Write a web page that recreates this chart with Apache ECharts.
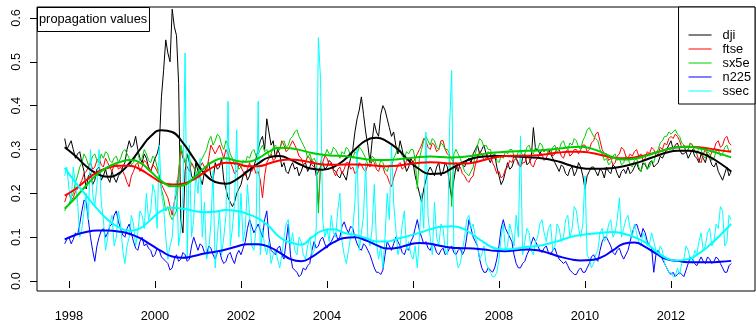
<!DOCTYPE html>
<html><head><meta charset="utf-8">
<script src="https://cdn.jsdelivr.net/npm/echarts@6/dist/echarts.min.js"></script>
<style>html,body{margin:0;padding:0;background:#fff}#c{width:756px;height:323px}</style>
</head><body><div id="c"></div>
<script>
// ---- time grid of the noisy series (years) ----
const years = [1997.9,1997.95,
1998,1998.05,1998.1,1998.15,1998.2,1998.25,1998.3,1998.35,1998.4,1998.45,1998.5,1998.55,1998.6,1998.65,1998.7,1998.75,1998.8,1998.85,1998.9,1998.95,
1999,1999.05,1999.1,1999.15,1999.2,1999.25,1999.3,1999.35,1999.4,1999.45,1999.5,1999.55,1999.6,1999.65,1999.7,1999.75,1999.8,1999.85,1999.9,1999.95,
2000,2000.05,2000.1,2000.15,2000.2,2000.25,2000.3,2000.35,2000.4,2000.45,2000.5,2000.55,2000.6,2000.65,2000.7,2000.75,2000.8,2000.85,2000.9,2000.95,
2001,2001.05,2001.1,2001.15,2001.2,2001.25,2001.3,2001.35,2001.4,2001.45,2001.5,2001.55,2001.6,2001.65,2001.7,2001.75,2001.8,2001.85,2001.9,2001.95,
2002,2002.05,2002.1,2002.15,2002.2,2002.25,2002.3,2002.35,2002.4,2002.45,2002.5,2002.55,2002.6,2002.65,2002.7,2002.75,2002.8,2002.85,2002.9,2002.95,
2003,2003.05,2003.1,2003.15,2003.2,2003.25,2003.3,2003.35,2003.4,2003.45,2003.5,2003.55,2003.6,2003.65,2003.7,2003.75,2003.8,2003.85,2003.9,2003.95,
2004,2004.05,2004.1,2004.15,2004.2,2004.25,2004.3,2004.35,2004.4,2004.45,2004.5,2004.55,2004.6,2004.65,2004.7,2004.75,2004.8,2004.85,2004.9,2004.95,
2005,2005.05,2005.1,2005.15,2005.2,2005.25,2005.3,2005.35,2005.4,2005.45,2005.5,2005.55,2005.6,2005.65,2005.7,2005.75,2005.8,2005.85,2005.9,2005.95,
2006,2006.05,2006.1,2006.15,2006.2,2006.25,2006.3,2006.35,2006.4,2006.45,2006.5,2006.55,2006.6,2006.65,2006.7,2006.75,2006.8,2006.85,2006.9,2006.95,
2007,2007.05,2007.1,2007.15,2007.2,2007.25,2007.3,2007.35,2007.4,2007.45,2007.5,2007.55,2007.6,2007.65,2007.7,2007.75,2007.8,2007.85,2007.9,2007.95,
2008,2008.05,2008.1,2008.15,2008.2,2008.25,2008.3,2008.35,2008.4,2008.45,2008.5,2008.55,2008.6,2008.65,2008.7,2008.75,2008.8,2008.85,2008.9,2008.95,
2009,2009.05,2009.1,2009.15,2009.2,2009.25,2009.3,2009.35,2009.4,2009.45,2009.5,2009.55,2009.6,2009.65,2009.7,2009.75,2009.8,2009.85,2009.9,2009.95,
2010,2010.05,2010.1,2010.15,2010.2,2010.25,2010.3,2010.35,2010.4,2010.45,2010.5,2010.55,2010.6,2010.65,2010.7,2010.75,2010.8,2010.85,2010.9,2010.95,
2011,2011.05,2011.1,2011.15,2011.2,2011.25,2011.3,2011.35,2011.4,2011.45,2011.5,2011.55,2011.6,2011.65,2011.7,2011.75,2011.8,2011.85,2011.9,2011.95,
2012,2012.05,2012.1,2012.15,2012.2,2012.25,2012.3,2012.35,2012.4,2012.45,2012.5,2012.55,2012.6,2012.65,2012.7,2012.75,2012.8,2012.85,2012.9,2012.95,
2013,2013.05,2013.1,2013.15,2013.2,2013.25,2013.3,2013.35,2013.4];

const dji = [0.325,0.30,
0.31,0.32,0.30,0.28,0.29,0.295,0.27,0.25,0.21,0.24,0.245,0.22,0.23,0.255,0.26,0.23,0.24,0.255,0.235,0.225,
0.25,0.235,0.225,0.24,0.245,0.26,0.27,0.30,0.32,0.305,0.31,0.33,0.30,0.28,0.27,0.29,0.28,0.26,0.25,0.265,
0.28,0.29,0.31,0.42,0.48,0.55,0.52,0.50,0.62,0.58,0.56,0.45,0.14,0.11,0.25,0.29,0.27,0.24,0.23,0.27,
0.25,0.235,0.22,0.25,0.26,0.27,0.24,0.23,0.27,0.255,0.26,0.28,0.23,0.21,0.19,0.18,0.17,0.18,0.20,0.21,
0.22,0.24,0.25,0.23,0.24,0.26,0.26,0.28,0.30,0.32,0.33,0.30,0.37,0.34,0.31,0.32,0.28,0.30,0.29,0.26,
0.27,0.25,0.245,0.26,0.27,0.255,0.26,0.24,0.25,0.265,0.27,0.25,0.26,0.275,0.27,0.24,0.25,0.26,0.27,0.255,
0.26,0.275,0.27,0.255,0.25,0.24,0.235,0.25,0.24,0.23,0.26,0.28,0.30,0.34,0.37,0.39,0.42,0.38,0.34,0.31,
0.27,0.32,0.36,0.34,0.33,0.38,0.40,0.39,0.37,0.35,0.33,0.34,0.31,0.29,0.32,0.30,0.27,0.25,0.26,0.28,
0.27,0.24,0.22,0.20,0.18,0.21,0.23,0.25,0.26,0.25,0.24,0.26,0.27,0.24,0.25,0.27,0.26,0.22,0.19,0.23,
0.26,0.25,0.27,0.265,0.26,0.275,0.28,0.27,0.29,0.30,0.31,0.29,0.30,0.31,0.29,0.28,0.27,0.285,0.29,0.26,
0.24,0.22,0.23,0.25,0.27,0.255,0.26,0.275,0.28,0.27,0.26,0.28,0.29,0.265,0.27,0.28,0.35,0.30,0.30,0.29,
0.30,0.295,0.30,0.30,0.29,0.28,0.27,0.26,0.25,0.265,0.26,0.245,0.24,0.255,0.26,0.24,0.25,0.27,0.26,0.24,
0.21,0.24,0.25,0.26,0.26,0.25,0.24,0.255,0.25,0.235,0.26,0.25,0.245,0.265,0.26,0.245,0.235,0.25,0.255,0.245,
0.26,0.245,0.25,0.26,0.27,0.255,0.25,0.27,0.265,0.255,0.27,0.275,0.26,0.265,0.27,0.285,0.28,0.29,0.30,0.31,
0.32,0.30,0.31,0.315,0.30,0.29,0.29,0.295,0.28,0.29,0.30,0.285,0.28,0.27,0.29,0.28,0.27,0.29,0.28,0.265,
0.26,0.27,0.25,0.24,0.23,0.245,0.26,0.24,0.25];

const ftse = [0.18,0.195,
0.20,0.185,0.19,0.205,0.21,0.22,0.23,0.245,0.25,0.26,0.27,0.255,0.26,0.275,0.28,0.265,0.26,0.28,0.27,0.26,
0.25,0.265,0.27,0.255,0.26,0.25,0.24,0.225,0.215,0.24,0.25,0.265,0.27,0.25,0.26,0.275,0.27,0.26,0.25,0.265,
0.26,0.25,0.24,0.22,0.21,0.20,0.19,0.17,0.15,0.18,0.20,0.25,0.30,0.28,0.27,0.26,0.25,0.27,0.26,0.25,
0.24,0.26,0.27,0.26,0.25,0.28,0.31,0.30,0.29,0.30,0.31,0.295,0.28,0.30,0.29,0.27,0.26,0.245,0.25,0.265,
0.26,0.25,0.24,0.255,0.27,0.25,0.26,0.245,0.25,0.23,0.19,0.24,0.27,0.28,0.29,0.275,0.28,0.295,0.30,0.32,
0.31,0.295,0.30,0.31,0.32,0.31,0.30,0.285,0.28,0.265,0.27,0.285,0.28,0.265,0.26,0.25,0.175,0.26,0.27,0.285,
0.28,0.265,0.27,0.25,0.24,0.255,0.26,0.245,0.255,0.27,0.27,0.255,0.26,0.245,0.25,0.27,0.265,0.255,0.25,0.265,
0.26,0.275,0.27,0.255,0.25,0.265,0.26,0.245,0.24,0.225,0.215,0.235,0.25,0.265,0.27,0.255,0.26,0.275,0.28,0.265,
0.27,0.28,0.29,0.30,0.31,0.325,0.32,0.305,0.30,0.315,0.31,0.295,0.30,0.32,0.32,0.30,0.29,0.285,0.28,0.265,
0.27,0.255,0.26,0.245,0.24,0.23,0.225,0.235,0.24,0.265,0.28,0.295,0.29,0.275,0.28,0.295,0.29,0.27,0.26,0.245,
0.25,0.235,0.24,0.255,0.26,0.275,0.27,0.285,0.28,0.265,0.26,0.27,0.27,0.285,0.28,0.265,0.26,0.275,0.28,0.29,
0.29,0.275,0.28,0.295,0.30,0.285,0.29,0.305,0.30,0.285,0.28,0.295,0.30,0.285,0.29,0.30,0.30,0.29,0.30,0.31,
0.31,0.295,0.30,0.315,0.32,0.335,0.34,0.32,0.30,0.29,0.29,0.275,0.28,0.265,0.27,0.285,0.29,0.305,0.30,0.285,
0.28,0.29,0.285,0.295,0.30,0.285,0.29,0.275,0.28,0.295,0.29,0.305,0.30,0.285,0.29,0.305,0.30,0.315,0.31,0.325,
0.33,0.325,0.335,0.33,0.32,0.305,0.31,0.295,0.30,0.315,0.31,0.295,0.29,0.275,0.27,0.29,0.30,0.285,0.28,0.295,
0.30,0.315,0.32,0.305,0.31,0.325,0.33,0.315,0.31];

const sx5e = [0.16,0.17,
0.175,0.19,0.20,0.225,0.24,0.26,0.27,0.29,0.28,0.265,0.27,0.285,0.29,0.275,0.27,0.29,0.28,0.295,0.29,0.275,
0.27,0.28,0.285,0.27,0.28,0.295,0.30,0.29,0.28,0.265,0.27,0.285,0.29,0.275,0.28,0.30,0.29,0.275,0.27,0.285,
0.28,0.26,0.24,0.21,0.19,0.16,0.17,0.15,0.14,0.15,0.16,0.24,0.31,0.29,0.27,0.29,0.28,0.265,0.26,0.245,
0.25,0.27,0.28,0.29,0.30,0.32,0.33,0.31,0.32,0.335,0.33,0.31,0.30,0.32,0.31,0.29,0.28,0.265,0.27,0.255,
0.26,0.275,0.27,0.285,0.28,0.295,0.30,0.285,0.29,0.30,0.31,0.295,0.30,0.285,0.29,0.305,0.31,0.30,0.30,0.315,
0.32,0.305,0.31,0.325,0.33,0.34,0.345,0.33,0.32,0.31,0.30,0.28,0.29,0.275,0.28,0.27,0.155,0.27,0.29,0.285,
0.30,0.29,0.29,0.305,0.30,0.29,0.28,0.295,0.29,0.305,0.30,0.285,0.28,0.295,0.29,0.305,0.30,0.29,0.28,0.265,
0.27,0.285,0.28,0.265,0.26,0.275,0.27,0.255,0.25,0.265,0.26,0.28,0.29,0.305,0.30,0.285,0.28,0.295,0.29,0.30,
0.30,0.28,0.21,0.28,0.30,0.32,0.33,0.32,0.31,0.325,0.32,0.305,0.30,0.315,0.31,0.30,0.30,0.29,0.17,0.29,
0.30,0.29,0.28,0.265,0.25,0.245,0.24,0.25,0.26,0.29,0.31,0.325,0.32,0.305,0.31,0.30,0.30,0.285,0.29,0.275,
0.27,0.285,0.28,0.295,0.29,0.30,0.30,0.285,0.28,0.295,0.30,0.285,0.29,0.305,0.31,0.295,0.29,0.305,0.30,0.315,
0.31,0.295,0.30,0.29,0.29,0.305,0.31,0.295,0.30,0.315,0.32,0.305,0.30,0.315,0.31,0.325,0.32,0.305,0.30,0.32,
0.33,0.345,0.35,0.34,0.33,0.325,0.32,0.30,0.29,0.275,0.28,0.265,0.27,0.285,0.29,0.275,0.28,0.265,0.27,0.285,
0.28,0.265,0.26,0.275,0.28,0.26,0.25,0.265,0.27,0.255,0.26,0.275,0.27,0.29,0.30,0.315,0.32,0.33,0.33,0.34,
0.335,0.34,0.345,0.335,0.33,0.315,0.31,0.295,0.30,0.315,0.31,0.295,0.29,0.305,0.30,0.285,0.28,0.295,0.29,0.275,
0.28,0.295,0.30,0.285,0.29,0.305,0.31,0.295,0.30];

const n225 = [0.085,0.095,
0.10,0.085,0.095,0.11,0.105,0.13,0.16,0.185,0.18,0.14,0.10,0.07,0.045,0.08,0.10,0.115,0.12,0.10,0.11,0.125,
0.13,0.15,0.16,0.135,0.12,0.105,0.10,0.12,0.13,0.11,0.09,0.075,0.07,0.09,0.10,0.08,0.085,0.075,0.07,0.055,
0.06,0.075,0.07,0.055,0.05,0.045,0.04,0.025,0.03,0.05,0.06,0.045,0.05,0.065,0.06,0.045,0.05,0.08,0.10,0.085,
0.07,0.085,0.08,0.065,0.06,0.08,0.075,0.06,0.05,0.065,0.07,0.05,0.04,0.045,0.06,0.065,0.05,0.04,0.06,0.07,
0.06,0.075,0.09,0.12,0.14,0.125,0.11,0.12,0.13,0.115,0.10,0.14,0.16,0.10,0.07,0.065,0.06,0.075,0.08,0.06,
0.05,0.09,0.13,0.06,0.03,0.025,0.02,0.01,0.015,0.03,0.025,0.035,0.04,0.07,0.09,0.075,0.08,0.095,0.10,0.085,
0.075,0.085,0.09,0.10,0.11,0.095,0.10,0.125,0.135,0.12,0.11,0.125,0.12,0.10,0.085,0.075,0.07,0.085,0.08,0.07,
0.06,0.045,0.03,0.02,0.02,0.015,0.025,0.06,0.09,0.08,0.07,0.085,0.10,0.09,0.08,0.065,0.06,0.075,0.07,0.09,
0.10,0.12,0.14,0.115,0.10,0.085,0.09,0.075,0.07,0.085,0.08,0.065,0.06,0.07,0.075,0.06,0.065,0.075,0.08,0.065,
0.06,0.07,0.075,0.06,0.07,0.10,0.14,0.12,0.10,0.09,0.08,0.05,0.03,0.02,0.02,0.03,0.025,0.02,0.03,0.05,
0.08,0.12,0.14,0.12,0.11,0.10,0.09,0.06,0.04,0.03,0.03,0.04,0.045,0.06,0.07,0.085,0.10,0.09,0.08,0.07,
0.065,0.075,0.08,0.065,0.06,0.07,0.075,0.06,0.05,0.045,0.04,0.045,0.035,0.025,0.02,0.015,0.015,0.025,0.03,0.02,
0.02,0.03,0.04,0.055,0.06,0.05,0.045,0.07,0.09,0.10,0.10,0.09,0.08,0.065,0.06,0.07,0.075,0.06,0.05,0.06,
0.07,0.09,0.11,0.125,0.13,0.115,0.10,0.12,0.11,0.09,0.08,0.075,0.02,0.06,0.07,0.06,0.05,0.04,0.03,0.02,
0.015,0.02,0.01,0.015,0.02,0.015,0.01,0.025,0.04,0.055,0.05,0.04,0.035,0.045,0.055,0.045,0.04,0.055,0.05,0.04,
0.045,0.055,0.05,0.04,0.03,0.02,0.02,0.035,0.04];

const ssec = [0.24,0.26,
0.21,0.18,0.26,0.22,0.18,0.10,0.12,0.16,0.20,0.14,0.30,0.20,0.17,0.22,0.30,0.18,0.14,0.07,0.10,0.13,
0.15,0.08,0.10,0.16,0.13,0.07,0.04,0.08,0.10,0.15,0.13,0.08,0.11,0.16,0.15,0.12,0.20,0.14,0.16,0.22,
0.20,0.12,0.31,0.20,0.17,0.10,0.05,0.08,0.10,0.18,0.23,0.08,0.12,0.20,0.52,0.05,0.31,0.10,0.14,0.25,
0.20,0.28,0.10,0.18,0.05,0.07,0.13,0.25,0.03,0.10,0.16,0.06,0.10,0.15,0.41,0.08,0.12,0.18,0.345,0.10,
0.20,0.09,0.12,0.22,0.15,0.08,0.07,0.12,0.41,0.06,0.12,0.08,0.06,0.09,0.04,0.06,0.07,0.05,0.03,0.06,
0.10,0.13,0.14,0.08,0.11,0.07,0.06,0.10,0.09,0.06,0.05,0.08,0.10,0.06,0.07,0.12,0.555,0.46,0.14,0.10,
0.12,0.09,0.15,0.11,0.10,0.16,0.20,0.09,0.06,0.04,0.07,0.10,0.12,0.18,0.30,0.07,0.11,0.15,0.27,0.10,
0.08,0.12,0.22,0.09,0.05,0.08,0.03,0.10,0.20,0.14,0.31,0.18,0.12,0.06,0.08,0.13,0.16,0.07,0.09,0.06,
0.05,0.08,0.03,0.10,0.20,0.12,0.34,0.15,0.10,0.06,0.18,0.10,0.08,0.13,0.12,0.07,0.06,0.35,0.48,0.08,
0.06,0.03,0.04,0.07,0.10,0.14,0.15,0.12,0.13,0.10,0.08,0.05,0.06,0.08,0.04,0.03,0.02,0.01,0.01,0.02,
0.05,0.10,0.13,0.07,0.08,0.13,0.11,0.08,0.15,0.10,0.33,0.06,0.09,0.12,0.11,0.07,0.06,0.09,0.10,0.13,
0.14,0.11,0.09,0.12,0.13,0.07,0.08,0.13,0.12,0.09,0.10,0.14,0.15,0.10,0.12,0.17,0.16,0.12,0.10,0.13,
0.24,0.06,0.05,0.03,0.04,0.06,0.07,0.11,0.12,0.09,0.10,0.13,0.14,0.10,0.11,0.14,0.19,0.10,0.12,0.14,
0.15,0.12,0.10,0.13,0.11,0.09,0.08,0.11,0.10,0.08,0.085,0.11,0.09,0.07,0.06,0.08,0.07,0.04,0.03,0.02,
0.02,0.01,0.01,0.03,0.015,0.04,0.05,0.08,0.07,0.05,0.04,0.07,0.06,0.09,0.11,0.07,0.08,0.11,0.12,0.08,
0.09,0.13,0.12,0.17,0.16,0.08,0.09,0.15,0.14];

// ---- time grid of the smoothed curves ----
const smoothYears = [1997.9,1998.15,1998.4,1998.65,1998.9,1999.15,1999.4,1999.65,1999.9,2000.15,
2000.4,2000.65,2000.9,2001.15,2001.4,2001.65,2001.9,2002.15,2002.4,2002.65,
2002.9,2003.15,2003.4,2003.65,2003.9,2004.15,2004.4,2004.65,2004.9,2005.15,
2005.4,2005.65,2005.9,2006.15,2006.4,2006.65,2006.9,2007.15,2007.4,2007.65,
2007.9,2008.15,2008.4,2008.65,2008.9,2009.15,2009.4,2009.65,2009.9,2010.15,
2010.4,2010.65,2010.9,2011.15,2011.4,2011.65,2011.9,2012.15,2012.4,2012.65,
2012.9,2013.15,2013.4];

const djiSmooth = [0.305,0.285,0.262,0.245,0.238,0.245,0.268,0.30,0.33,0.344,
0.34,0.315,0.28,0.245,0.226,0.222,0.232,0.25,0.268,0.282,
0.285,0.277,0.265,0.256,0.254,0.26,0.276,0.30,0.32,0.327,
0.318,0.30,0.275,0.255,0.244,0.245,0.257,0.27,0.28,0.284,
0.285,0.285,0.284,0.283,0.281,0.278,0.272,0.264,0.258,0.256,
0.256,0.258,0.262,0.268,0.276,0.285,0.293,0.297,0.297,0.293,
0.283,0.268,0.25];
const ftseSmooth = [0.195,0.21,0.23,0.248,0.258,0.263,0.263,0.255,0.24,0.225,
0.22,0.222,0.232,0.248,0.262,0.27,0.268,0.262,0.262,0.268,
0.275,0.277,0.275,0.27,0.266,0.265,0.266,0.266,0.265,0.263,
0.262,0.263,0.267,0.27,0.271,0.27,0.268,0.268,0.27,0.276,
0.282,0.285,0.286,0.286,0.287,0.29,0.293,0.295,0.295,0.292,
0.287,0.282,0.28,0.282,0.287,0.293,0.30,0.305,0.306,0.305,
0.302,0.298,0.295];
const sx5eSmooth = [0.165,0.19,0.218,0.243,0.26,0.27,0.276,0.27,0.25,0.228,
0.216,0.218,0.235,0.258,0.275,0.28,0.274,0.272,0.28,0.295,
0.304,0.303,0.298,0.292,0.288,0.286,0.285,0.282,0.278,0.276,
0.276,0.278,0.28,0.283,0.284,0.283,0.282,0.283,0.286,0.29,
0.293,0.295,0.296,0.297,0.298,0.30,0.302,0.305,0.306,0.302,
0.293,0.282,0.277,0.279,0.285,0.293,0.30,0.305,0.306,0.303,
0.297,0.29,0.282];
const n225Smooth = [0.095,0.105,0.112,0.115,0.115,0.113,0.108,0.098,0.083,0.068,
0.056,0.053,0.057,0.063,0.067,0.072,0.079,0.084,0.084,0.078,
0.065,0.05,0.045,0.055,0.072,0.088,0.098,0.10,0.093,0.082,
0.074,0.076,0.083,0.087,0.085,0.08,0.076,0.075,0.074,0.072,
0.069,0.068,0.07,0.072,0.07,0.064,0.056,0.05,0.047,0.048,
0.055,0.07,0.085,0.088,0.078,0.063,0.05,0.046,0.043,0.043,
0.043,0.044,0.046];
const ssecSmooth = [0.258,0.225,0.195,0.165,0.14,0.123,0.115,0.12,0.14,0.16,
0.167,0.165,0.16,0.157,0.158,0.162,0.16,0.153,0.143,0.125,
0.10,0.088,0.083,0.10,0.115,0.118,0.11,0.105,0.098,0.09,
0.09,0.097,0.103,0.11,0.118,0.124,0.125,0.12,0.105,0.088,
0.075,0.072,0.074,0.078,0.08,0.085,0.092,0.10,0.105,0.108,
0.11,0.112,0.108,0.10,0.088,0.068,0.052,0.047,0.05,0.063,
0.082,0.105,0.13];

// ---- axis ticks and labels ----
const xTicks = [1998,2000,2002,2004,2006,2008,2010,2012];
const yTicks = [0,0.1,0.2,0.3,0.4,0.5,0.6];
const seriesNames = ['dji','ftse','sx5e','n225','ssec'];
const seriesColors = ['#000000','#FF0000','#00CD00','#0000FF','#00FFFF'];
const titleText = 'propagation values';

const FONT = '"Liberation Sans", Arial, Helvetica, sans-serif';
const FS = 12.8;
const noisy = [dji, ftse, sx5e, n225, ssec];
const smooth = [djiSmooth, ftseSmooth, sx5eSmooth, n225Smooth, ssecSmooth];

const series = [];
seriesNames.forEach((n, k) => {
  series.push({
    name: n, type: 'line', symbol: 'none', showSymbol: false, silent: true,
    data: years.map((t, i) => [t, noisy[k][i]]),
    lineStyle: { width: 1, color: seriesColors[k] },
    itemStyle: { color: seriesColors[k] }
  });
});
seriesNames.forEach((n, k) => {
  series.push({
    name: n, type: 'line', symbol: 'none', showSymbol: false, silent: true, smooth: 0.5,
    data: smoothYears.map((t, i) => [t, smooth[k][i]]),
    lineStyle: { width: 2, color: seriesColors[k] },
    itemStyle: { color: seriesColors[k] }
  });
});

const chart = echarts.init(document.getElementById('c'), null, { renderer: 'canvas' });
chart.setOption({
  animation: false,
  backgroundColor: '#ffffff',
  title: {
    text: titleText, left: 37, top: 7,
    padding: [6, 3, 6, 2], borderColor: '#000', borderWidth: 1,
    textStyle: { fontFamily: FONT, fontSize: FS, fontWeight: 'normal', color: '#000' }
  },
  legend: {
    data: seriesNames, orient: 'vertical', right: 1, top: 7,
    icon: 'rect', itemWidth: 23, itemHeight: 1, itemGap: 0,
    padding: [21, 4, 6, 10], borderColor: '#000', borderWidth: 1,
    backgroundColor: '#fff', selectedMode: false,
    textStyle: { fontFamily: FONT, fontSize: FS, color: '#000', lineHeight: 14, padding: [0, 0, 0, 6] }
  },
  grid: { left: 37, right: 1, top: 7, bottom: 31, show: true, borderColor: '#000', borderWidth: 1, backgroundColor: 'transparent' },
  xAxis: {
    type: 'value', min: 1997.256, max: 2013.954,
    axisLine: { show: false },
    splitLine: { show: false },
    axisTick: { show: true, length: 7, lineStyle: { color: '#000' }, customValues: xTicks },
    axisLabel: { customValues: xTicks, margin: 19, color: '#000', fontFamily: FONT, fontSize: FS, formatter: v => String(v) }
  },
  yAxis: {
    type: 'value', min: -0.0227, max: 0.625,
    axisLine: { show: false },
    splitLine: { show: false },
    axisTick: { show: true, length: 7, lineStyle: { color: '#000' }, customValues: yTicks },
    axisLabel: { customValues: yTicks, rotate: 90, margin: 14, color: '#000', fontFamily: FONT, fontSize: FS, formatter: v => v.toFixed(1) }
  },
  series: series
});
</script></body></html>
